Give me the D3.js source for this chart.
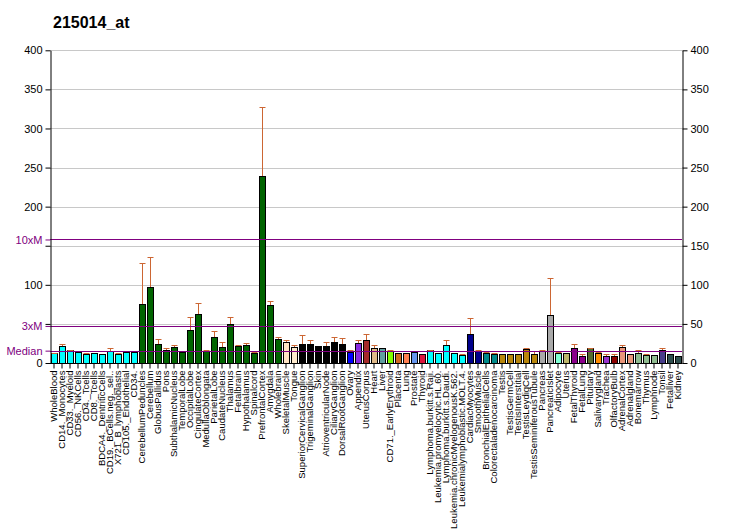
<!DOCTYPE html>
<html>
<head>
<meta charset="utf-8">
<script src="https://cdn.jsdelivr.net/npm/d3@7"></script>
<style>
body { margin: 0; background: #fff; }
text { font-family: "Liberation Sans", Arial, sans-serif; }
</style>
</head>
<body>
<script>
var title = "215014_at";

var tissues = ["WholeBlood","CD14._Monocytes","CD33._Myeloid","CD56._NKCells","CD4._Tcells","CD8._Tcells",
  "BDCA4._DentriticCells","CD19._BCells.neg._sel..","X721_B_lymphoblasts","CD105._Endothelial","CD34.",
  "CerebellumPeduncles","Cerebellum","GlobusPallidus","Pons","SubthalamicNucleus","TemporalLobe",
  "OccipitalLobe","CingulateCortex","MedullaOblongata","ParietalLobe","CaudateNucleus","Thalamus",
  "Fetalbrain","Hypothalamus","Spinalcord","PrefrontalCortex","Amygdala","Wholebrain","SkeletalMuscle",
  "Tongue","SuperiorCervicalGanglion","TrigeminalGanglion","Skin","AtrioventricularNode","CiliaryGanglion",
  "DorsalRootGanglion","Ovary","Appendix","UterusCorpus","Heart","Liver","CD71._EarlyErythroid","Placenta",
  "Lung","Prostate","Thyroid","Lymphoma.burkitt.s.Raji.","Leukemia.promyelocytic.HL.60.",
  "Lymphoma.burkitt.s.Daudi.","Leukemia.chronicMyelogenousK.562.","Leukemialymphoblastic.MOLT.4.",
  "CardiacMyocytes","SmoothMuscle","BronchialEpithelialCells","Colorectaladenocarcinoma","Testis",
  "TestisGermCell","TestisInterstitial","TestisLeydigCell","TestisSeminiferousTubule","Pancreas",
  "PancreaticIslet","Adipocyte","Uterus","FetalThyroid","FetalLung","Pituitary","Salivarygland","Trachea",
  "OlfactoryBulb","AdrenalCortex","Adrenalgland","Bonemarrow","Thymus","Lymphnode","Tonsil","Fetalliver",
  "Kidney"];

var values = [12.4,21.3,16.2,13.7,11.1,12.4,11.1,15.8,11.1,13.7,13.7,
  75,96.8,23.9,16.2,20,13.7,41.8,62.2,15,32.8,20,49.4,21.3,22.6,12.4,239,73.8,30.3,
  26.4,20,23.9,23.9,21.3,21.3,26.4,23.9,13.7,25.2,29,18.7,18.7,15,12.4,12.4,13.7,11.1,
  16.2,12.4,22.6,12.4,9.8,36.7,15,12.4,11.1,11.1,11.1,11.1,17.5,11.1,15,61,
  12.4,12.4,18.7,8.5,18.7,12.4,8.5,8.5,20,11.1,12.4,9.8,9.8,16.2,11.1,8.5];

var errTop = [13,24,17,13.7,12.4,12.4,11.1,18.7,12.4,13.7,13.7,
  127.5,135,30.7,18.7,22.6,13.7,58.4,76.3,17,40.5,26.4,58.4,22.6,25.2,13.7,327,78.9,32.8,
  29,22.6,35.4,29,21.3,26.4,32.8,31.9,17,29,36.7,22.6,18.7,17,12.4,12.4,13.7,11.1,
  17,12.4,29,12.4,11,57.1,16.2,13.7,12.4,11.1,11.1,11.1,18.7,15,17,108.3,
  13.7,12.4,23.9,11,19.5,13.7,11,11,22.6,11.1,16,11,9.8,18.7,11.1,8.5];

var colors = ["#00ffff","#00ffff","#00ffff","#00ffff","#00ffff","#00ffff","#00ffff","#00ffff","#00ffff","#00ffff","#00ffff",
  "#006400","#006400","#006400","#006400","#006400","#006400","#006400","#006400","#006400","#006400","#006400","#006400",
  "#006400","#006400","#006400","#006400","#006400","#006400",
  "#ffe4c4","#ffebcd","#000000","#000000","#000000","#000000","#000000","#000000",
  "#0000ff","#8a2be2","#a52a2a","#deb887","#5f9ea0","#7fff00","#d2691e","#ff7f50","#6495ed","#dc143c",
  "#00ffff","#00ffff","#00ffff","#00ffff","#00ffff","#00008b","#00008b","#008b8b","#008b8b",
  "#b8860b","#b8860b","#b8860b","#b8860b","#b8860b","#a9a9a9","#a9a9a9","#7fffd4","#bdb76b",
  "#8b008b","#8b008b","#556b2f","#ff8c00","#9932cc","#8b0000","#e9967a","#e9967a",
  "#8fbc8f","#8fbc8f","#8fbc8f","#483d8b","#2f4f4f","#2f4f4f"];

var gridTicks = [0,50,100,150,200,250,300,350,400];
var median = 15.8;
var markers = [{label: "Median", v: median}, {label: "3xM", v: median * 3}, {label: "10xM", v: median * 10}];

var W = 732, H = 530;
var plotLeft = 50, plotRight = 682, plotTop = 50.3, plotBottom = 363;

var svg = d3.select("body").append("svg")
  .attr("width", W)
  .attr("height", H);

var x = d3.scaleBand().domain(tissues).range([plotLeft, plotRight]).paddingInner(0.2).paddingOuter(0.1);
var y = d3.scaleLinear().domain([0, 400]).range([plotBottom, plotTop]);

svg.append("text")
  .attr("x", 53).attr("y", 28)
  .style("font-size", "16px")
  .style("font-weight", "bold")
  .text(title);

// grid
svg.append("g").selectAll("line")
  .data(gridTicks.filter(function(d) { return d > 0; }))
  .enter().append("line")
  .attr("x1", plotLeft).attr("x2", plotRight)
  .attr("y1", function(d) { return Math.round(y(d)) + 0.5; })
  .attr("y2", function(d) { return Math.round(y(d)) + 0.5; })
  .attr("stroke", "#c8c8c8");

// bars
svg.append("g").selectAll("rect")
  .data(values)
  .enter().append("rect")
  .attr("x", function(d, i) { return Math.round(x(tissues[i])) + 0.5; })
  .attr("y", function(d) { return Math.round(y(d)) + 0.5; })
  .attr("width", Math.round(x.bandwidth()))
  .attr("height", function(d) { return Math.round(plotBottom) - Math.round(y(d)); })
  .attr("fill", function(d, i) { return colors[i]; })
  .attr("stroke", "#000")
  .attr("stroke-width", 1);

// error bars
var eg = svg.append("g").attr("stroke", "#cc6633").attr("stroke-width", 1);
errTop.forEach(function(e, i) {
  if (e <= values[i] + 0.5) return;
  var cx = Math.round(x(tissues[i]) + x.bandwidth() / 2) + 0.5;
  var ey = Math.round(y(e)) + 0.5;
  eg.append("line").attr("x1", cx).attr("x2", cx)
    .attr("y1", Math.round(y(values[i]))).attr("y2", ey);
  eg.append("line").attr("x1", cx - 3).attr("x2", cx + 3)
    .attr("y1", ey).attr("y2", ey);
});

// median lines
svg.append("g").selectAll("line")
  .data(markers)
  .enter().append("line")
  .attr("x1", plotLeft).attr("x2", plotRight)
  .attr("y1", function(d) { return Math.round(y(d.v)) + 0.5; })
  .attr("y2", function(d) { return Math.round(y(d.v)) + 0.5; })
  .attr("stroke", "#800080")
  .attr("stroke-width", 1);

// axes
var leftAxis = svg.append("g")
  .attr("transform", "translate(" + (plotLeft + 0.5) + ",0)")
  .call(d3.axisLeft(y).tickValues(gridTicks).tickSize(5).tickSizeOuter(0)
    .tickFormat(function(d) { return (d === 50 || d === 150) ? "" : d; }));

var markAxis = svg.append("g")
  .attr("transform", "translate(" + (plotLeft + 0.5) + ",0)")
  .call(d3.axisLeft(y).tickValues(markers.map(function(d) { return d.v; })).tickSize(5)
    .tickFormat(function(d, i) { return markers[i].label; }));
markAxis.select(".domain").remove();
markAxis.selectAll("line").attr("stroke", "#800080");
markAxis.selectAll("text").attr("fill", "#800080");

var rightAxis = svg.append("g")
  .attr("transform", "translate(" + (plotRight + 0.5) + ",0)")
  .call(d3.axisRight(y).tickValues(gridTicks).tickSize(5).tickSizeOuter(0));

var xAxis = svg.append("g")
  .attr("transform", "translate(0," + (plotBottom + 0.5) + ")")
  .call(d3.axisBottom(x).tickSize(5).tickSizeOuter(0));
xAxis.select(".domain").attr("d", "M" + plotLeft + ",0H" + (plotRight + 0.5));
xAxis.selectAll("text")
  .attr("transform", "rotate(-90)")
  .attr("x", -7).attr("y", 0).attr("dy", "0.35em")
  .style("text-anchor", "end")
  .style("font-size", "9.5px");

leftAxis.selectAll("text").style("font-size", "11px");
rightAxis.selectAll("text").style("font-size", "11px");
markAxis.selectAll("text").style("font-size", "11px");
svg.selectAll("g").attr("font-family", "Liberation Sans, Arial, sans-serif");
</script>
</body>
</html>
